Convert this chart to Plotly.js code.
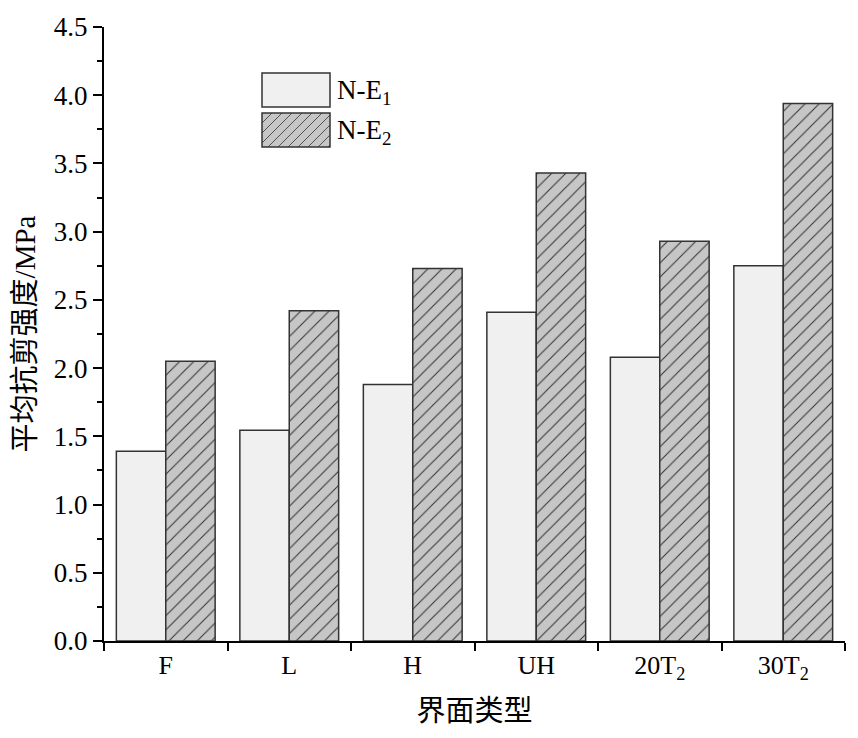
<!DOCTYPE html>
<html><head><meta charset="utf-8">
<script src="https://cdn.plot.ly/plotly-3.0.1.min.js"></script>
<style>html,body{margin:0;padding:0;background:#fff}</style>
</head><body><div id="chart" style="width:858px;height:738px"></div>
<script>
const categories = ['F', 'L', 'H', 'UH', '20T<sub>2</sub>', '30T<sub>2</sub>'];
const seriesNames = ['N-E<sub>1</sub>', 'N-E<sub>2</sub>'];
const valuesE1 = [1.39, 1.545, 1.88, 2.41, 2.08, 2.75];
const valuesE2 = [2.05, 2.42, 2.73, 3.43, 2.93, 3.94];
const yTickVals = [0, 0.5, 1, 1.5, 2, 2.5, 3, 3.5, 4, 4.5];
const yTickText = ['0.0','0.5','1.0','1.5','2.0','2.5','3.0','3.5','4.0','4.5'];

const FONT = 'Liberation Serif, Times New Roman, Noto Sans CJK SC, serif';
const M = {l:104, r:13, t:27, b:97};
const W = 858, H = 738;
const PW = W - M.l - M.r, PH = H - M.t - M.b;
const px = x => (x - M.l) / PW;
const py = y => (H - M.b - y) / PH;

const c1 = '#f0f0f0', c2 = '#c6c6c6', edge = '#333333';

const traces = [
  {type:'bar', x: categories, y: valuesE1, name: seriesNames[0],
   marker:{color:c1, line:{color:edge, width:1.5}}},
  {type:'bar', x: categories, y: valuesE2, name: seriesNames[1],
   marker:{color:c2, line:{color:edge, width:1.5},
     pattern:{shape:'/', fgcolor:'#333', bgcolor:c2, size:10, solidity:0.1, fillmode:'replace'}}}
];

// custom legend (swatches)
const shapes = [];
const annotations = [];
function swatch(x0, y0, x1, y1, fill, hatch) {
  shapes.push({type:'rect', xref:'paper', yref:'paper', x0:px(x0), x1:px(x1), y0:py(y1), y1:py(y0),
    fillcolor:fill, line:{color:edge, width:1.5}});
  if (hatch) {
    let d = '';
    for (let s = x0 - (y1 - y0); s < x1; s += 10) {
      let ax = s, ay = y1, bx = s + (y1 - y0), by = y0;
      if (ax < x0) { ay -= (x0 - ax); ax = x0; }
      if (bx > x1) { by += (bx - x1); bx = x1; }
      if (ax >= bx) continue;
      d += `M${px(ax)},${py(ay)} L${px(bx)},${py(by)} `;
    }
    shapes.push({type:'path', xref:'paper', yref:'paper', path:d, line:{color:'#333', width:0.8}});
  }
}
swatch(262, 73, 330, 107, c1, false);
swatch(262, 113, 330, 147, c2, true);
annotations.push({xref:'paper', yref:'paper', x:px(335), y:py(92), xanchor:'left', yanchor:'middle',
  text: seriesNames[0], showarrow:false, font:{family:FONT, size:27, color:'#000'}});
annotations.push({xref:'paper', yref:'paper', x:px(335), y:py(132), xanchor:'left', yanchor:'middle',
  text: seriesNames[1], showarrow:false, font:{family:FONT, size:27, color:'#000'}});

const layout = {
  width: W, height: H, margin: M,
  paper_bgcolor:'#fff', plot_bgcolor:'#fff',
  showlegend:false,
  barmode:'group', bargap:0.2, bargroupgap:0,
  font:{family:FONT, size:26, color:'#000'},
  xaxis:{
    title:{text:'界面类型', font:{family:FONT, size:29}, standoff:18},
    showline:true, linecolor:'#000', linewidth:2, mirror:false,
    ticks:'outside', tickson:'boundaries', ticklen:8, tickwidth:2, tickcolor:'#000',
    showgrid:false, zeroline:false, range:[-0.5, 5.5],
    tickfont:{family:FONT, size:26}
  },
  yaxis:{
    title:{text:'平均抗剪强度/MPa', font:{family:FONT, size:29}, standoff:10},
    showline:true, linecolor:'#000', linewidth:2,
    ticks:'outside', ticklen:9, tickwidth:2, tickcolor:'#000',
    tickvals:yTickVals, ticktext:yTickText,
    minor:{dtick:0.25, ticks:'outside', ticklen:5, tickwidth:2, tickcolor:'#000'},
    showgrid:false, zeroline:false, range:[0, 4.5],
    tickfont:{family:FONT, size:27}
  },
  shapes: shapes,
  annotations: annotations
};

Plotly.newPlot('chart', traces, layout, {displayModeBar:false, staticPlot:true});
</script></body></html>
